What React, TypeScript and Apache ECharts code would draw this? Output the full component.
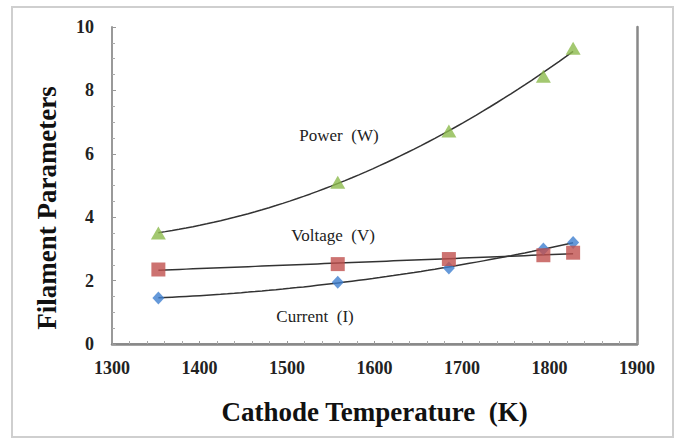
import React, { useEffect, useRef } from "react";
import * as echarts from "echarts";

const temps = [1353, 1558, 1685, 1793, 1827];
const current = [1.45, 1.95, 2.4, 3.0, 3.2];
const voltage = [2.35, 2.52, 2.68, 2.8, 2.88];
const power = [3.5, 5.1, 6.72, 8.45, 9.33];

const xTicks = [1300, 1400, 1500, 1600, 1700, 1800, 1900];
const yTicks = [0, 2, 4, 6, 8, 10];

const FONT = "Liberation Serif";

function polyfit(xs: number[], ys: number[], deg: number): (x: number) => number {
  const mx = xs.reduce((a, b) => a + b, 0) / xs.length;
  const n = deg + 1;
  const A: number[][] = Array.from({ length: n }, () => new Array(n + 1).fill(0));
  for (let k = 0; k < xs.length; k++) {
    const t = (xs[k] - mx) / 100;
    for (let i = 0; i < n; i++) {
      for (let j = 0; j < n; j++) A[i][j] += Math.pow(t, i + j);
      A[i][n] += ys[k] * Math.pow(t, i);
    }
  }
  for (let i = 0; i < n; i++) {
    let p = i;
    for (let r = i + 1; r < n; r++) if (Math.abs(A[r][i]) > Math.abs(A[p][i])) p = r;
    [A[i], A[p]] = [A[p], A[i]];
    for (let r = 0; r < n; r++) {
      if (r === i) continue;
      const f = A[r][i] / A[i][i];
      for (let c = i; c <= n; c++) A[r][c] -= f * A[i][c];
    }
  }
  const coef = A.map((row, i) => row[n] / row[i]);
  return (x: number) => {
    const t = (x - mx) / 100;
    return coef.reduce((s, c, i) => s + c * Math.pow(t, i), 0);
  };
}

function trend(ys: number[], deg: number): number[][] {
  const f = polyfit(temps, ys, deg);
  const out: number[][] = [];
  const x0 = temps[0];
  const x1 = temps[temps.length - 1];
  const steps = 60;
  for (let i = 0; i <= steps; i++) {
    const x = x0 + ((x1 - x0) * i) / steps;
    out.push([x, f(x)]);
  }
  return out;
}

export default function App() {
  const ref = useRef<HTMLDivElement>(null);
  useEffect(() => {
    if (!ref.current) return;
    const chart = echarts.init(ref.current, null, { renderer: "svg" });
    const labelStyle = { fontFamily: FONT, fontSize: 18, fontWeight: "bold" as const, color: "#222" };
    const lineStyle = { color: "#333", width: 1.5 };
    const noteStyle = {
      fontFamily: FONT,
      fontSize: 17,
      fill: "#222",
      align: "center" as const,
      verticalAlign: "middle" as const,
    };
    chart.setOption({
      animation: false,
      backgroundColor: "#fff",
      grid: { left: 112, right: 38, top: 27, bottom: 95 },
      xAxis: [
        {
          type: "value",
          min: xTicks[0],
          max: xTicks[xTicks.length - 1],
          interval: 100,
          axisLine: { show: true, onZero: false, lineStyle: { color: "#999", width: 2 } },
          axisTick: { show: true, inside: true, length: 3, lineStyle: { color: "#999" } },
          minorTick: { show: true, splitNumber: 5, length: 3, lineStyle: { color: "#aaa" } },
          splitLine: { show: false },
          axisLabel: { ...labelStyle, margin: 15, formatter: (v: number) => String(v) },
          name: "Cathode Temperature  (K)",
          nameLocation: "middle",
          nameGap: 54,
          nameTextStyle: { fontFamily: FONT, fontSize: 27, fontWeight: "bold", color: "#111" },
        },
        {
          type: "value",
          position: "top",
          min: xTicks[0],
          max: xTicks[xTicks.length - 1],
          axisLine: { show: true, lineStyle: { color: "#888", width: 2.5 } },
          axisTick: { show: false },
          axisLabel: { show: false },
          splitLine: { show: false },
        },
      ],
      yAxis: [
        {
          type: "value",
          min: yTicks[0],
          max: yTicks[yTicks.length - 1],
          interval: 2,
          axisLine: { show: true, onZero: false, lineStyle: { color: "#999", width: 2 } },
          axisTick: { show: true, inside: true, length: 4, lineStyle: { color: "#999" } },
          minorTick: { show: true, splitNumber: 4, length: 3, lineStyle: { color: "#aaa" } },
          splitLine: { show: false },
          axisLabel: { ...labelStyle, margin: 18 },
        },
        {
          type: "value",
          position: "right",
          min: 0,
          max: 10,
          axisLine: { show: true, lineStyle: { color: "#888", width: 2.5 } },
          axisTick: { show: false },
          axisLabel: { show: false },
          splitLine: { show: false },
        },
      ],
      graphic: [
        {
          type: "rect",
          shape: { x: 12, y: 7, width: 661, height: 430 },
          style: { fill: "none", stroke: "#cfcfcf", lineWidth: 2 },
          silent: true,
        },
        {
          type: "text",
          x: 47,
          y: 208,
          rotation: Math.PI / 2,
          style: {
            text: "Filament Parameters",
            fontFamily: FONT,
            fontSize: 27,
            fontWeight: "bold",
            fill: "#111",
            align: "center",
            verticalAlign: "middle",
          },
        },
        { type: "text", x: 339, y: 135, style: { ...noteStyle, text: "Power  (W)" } },
        { type: "text", x: 333, y: 235, style: { ...noteStyle, text: "Voltage  (V)" } },
        { type: "text", x: 315, y: 316, style: { ...noteStyle, text: "Current  (I)" } },
      ],
      series: [
        { type: "line", data: trend(power, 2), showSymbol: false, lineStyle, z: 2 },
        { type: "line", data: trend(voltage, 1), showSymbol: false, lineStyle, z: 2 },
        { type: "line", data: trend(current, 2), showSymbol: false, lineStyle, z: 2 },
        {
          type: "scatter",
          data: temps.map((t, i) => [t, current[i]]),
          symbol: "diamond",
          symbolSize: [12, 13],
          itemStyle: { color: "#3f7fcf" },
          z: 3,
        },
        {
          type: "scatter",
          data: temps.map((t, i) => [t, voltage[i]]),
          symbol: "rect",
          symbolSize: 14,
          itemStyle: { color: "#c0504d" },
          z: 3,
        },
        {
          type: "scatter",
          data: temps.map((t, i) => [t, power[i]]),
          symbol: "triangle",
          symbolSize: [15, 13],
          itemStyle: { color: "#8cba4c" },
          z: 3,
        },
      ],
    });
    return () => chart.dispose();
  }, []);
  return (
    <div
      ref={ref}
      style={{ position: "fixed", left: 0, top: 0, width: 675, height: 439 }}
    />
  );
}
